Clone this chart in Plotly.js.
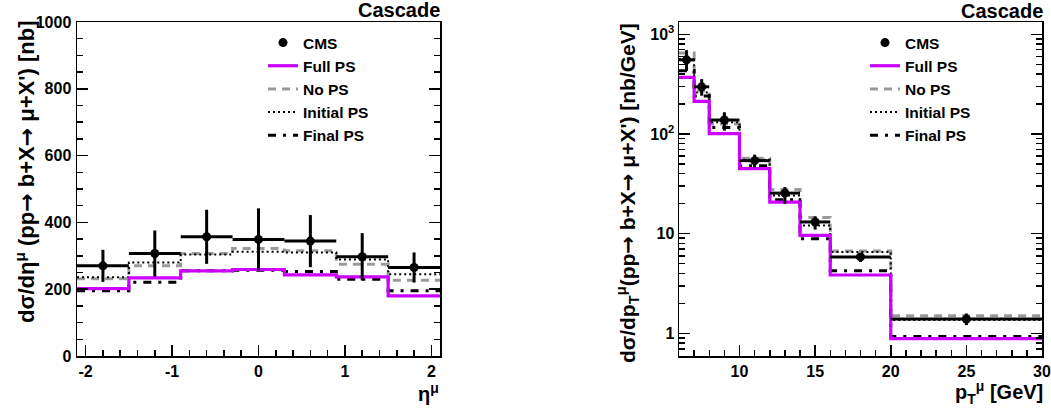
<!DOCTYPE html>
<html><head><meta charset="utf-8">
<script src="https://cdn.plot.ly/plotly-3.0.1.min.js"></script>
<style>html,body{margin:0;padding:0;background:#fff}#c{width:1051px;height:413px}</style>
</head><body><div id="c"></div>
<script>
// ---- left panel: eta ----
const etaEdges = [-2.1, -1.5, -0.9, -0.3, 0.3, 0.9, 1.5, 2.1];
const etaCMS = [270, 307, 357, 349, 344, 297, 265];
const etaCMSErr = [48, 69, 81, 93, 78, 71, 45];
const etaFull = [202, 234, 255, 259, 243, 237, 180];
const etaNoPS = [231, 270, 307, 322, 315, 275, 227];
const etaInitial = [236, 280, 304, 312, 310, 289, 245];
const etaFinal = [195, 221, 255, 257, 253, 230, 195];

// ---- right panel: pT ----
const ptEdges = [6, 7, 8, 10, 12, 14, 16, 20, 30];
const ptCMS = [554, 297, 138, 54, 25.5, 13.1, 5.85, 1.39];
const ptCMSErrUp = [138, 58, 27, 8, 3.8, 1.8, 0.55, 0.19];
const ptCMSErrDn = [124, 55, 30, 8, 5.5, 2.1, 0.65, 0.18];
const ptFull = [369, 212, 101, 45, 20.7, 9.6, 3.85, 0.885];
const ptNoPS = [650, 270, 126, 57, 27.7, 14.5, 6.7, 1.50];
const ptInitial = [560, 260, 131, 55, 24.2, 12.1, 6.55, 1.36];
const ptFinal = [430, 240, 116, 48, 21.9, 8.9, 4.25, 0.93];

const seriesNames = ['CMS', 'Full PS', 'No PS', 'Initial PS', 'Final PS'];
const logTickVals = [1, 10, 100, 1000];
const logTickText = ['1', '10', '10<sup>2</sup>', '10<sup>3</sup>'];

const FONT = 'Liberation Sans, Arial, Helvetica, sans-serif';
const MAG = '#cc00ff';
const ARROW = '<span style="font-family:DejaVu Sans">→</span>';

function centers(e){ const c=[]; for(let i=0;i<e.length-1;i++) c.push((e[i]+e[i+1])/2); return c; }
function halfw(e){ const c=[]; for(let i=0;i<e.length-1;i++) c.push((e[i+1]-e[i])/2); return c; }

const styles = [
  null,
  {color: MAG, width: 3.2},
  {color: '#9a9a9a', width: 3, dash: '8px,6px'},
  {color: '#000', width: 2, dash: '2px,3px'},
  {color: '#000', width: 3, dash: '8px,7px,3px,7px'}
];

function stepTrace(edges, vals, k, xa, ya, leg){
  return {
    x: edges, y: vals.concat([vals[vals.length-1]]),
    type: 'scatter', mode: 'lines', line: Object.assign({shape: 'hv'}, styles[k]),
    name: seriesNames[k], xaxis: xa, yaxis: ya, legend: leg, legendrank: k+1,
    hoverinfo: 'skip'
  };
}
function cmsTrace(edges, vals, up, dn, xa, ya, leg){
  return {
    x: centers(edges), y: vals, type: 'scatter', mode: 'markers',
    marker: {color: '#000', size: 9, symbol: 'circle'},
    error_x: {type: 'data', array: halfw(edges), color: '#000', thickness: 3, width: 0},
    error_y: {type: 'data', symmetric: false, array: up, arrayminus: dn, color: '#000', thickness: 3, width: 0},
    name: seriesNames[0], xaxis: xa, yaxis: ya, legend: leg, legendrank: 1
  };
}

const data = [
  stepTrace(etaEdges, etaNoPS, 2, 'x', 'y', 'legend'),
  stepTrace(etaEdges, etaInitial, 3, 'x', 'y', 'legend'),
  stepTrace(etaEdges, etaFinal, 4, 'x', 'y', 'legend'),
  stepTrace(etaEdges, etaFull, 1, 'x', 'y', 'legend'),
  cmsTrace(etaEdges, etaCMS, etaCMSErr, etaCMSErr, 'x', 'y', 'legend'),
  stepTrace(ptEdges, ptNoPS, 2, 'x2', 'y2', 'legend2'),
  stepTrace(ptEdges, ptInitial, 3, 'x2', 'y2', 'legend2'),
  stepTrace(ptEdges, ptFinal, 4, 'x2', 'y2', 'legend2'),
  stepTrace(ptEdges, ptFull, 1, 'x2', 'y2', 'legend2'),
  cmsTrace(ptEdges, ptCMS, ptCMSErrUp, ptCMSErrDn, 'x2', 'y2', 'legend2')
];

const W = 1051, H = 413;
const px = v => v / W, py = v => 1 - v / H;

const minorLog = [];
[0.1, 1, 10, 100, 1000].forEach(d => { for (let m = 2; m <= 9; m++) minorLog.push(m * d); });

const tickFont = {family: FONT, size: 16, weight: 'bold', color: '#000'};
const baseAxis = {
  showgrid: false, zeroline: false, showline: true, linecolor: '#000', linewidth: 1.5,
  ticks: 'inside', ticklen: 11, tickwidth: 1.5, tickcolor: '#000', tickfont: tickFont,
  fixedrange: true
};
const minorStyle = {ticks: 'inside', ticklen: 6, tickwidth: 1.5, tickcolor: '#000'};
const legFont = {family: FONT, size: 15.5, weight: 'bold', color: '#000'};

const layout = {
  width: W, height: H, margin: {l: 0, r: 0, t: 0, b: 0},
  paper_bgcolor: '#fff', plot_bgcolor: '#fff',
  font: {family: FONT, weight: 'bold', color: '#000'},
  xaxis: Object.assign({}, baseAxis, {
    domain: [px(77), px(440)], range: [-2.1, 2.1], anchor: 'y', mirror: true,
    tickvals: [-2, -1, 0, 1, 2], ticktext: ['-2', '-1', '0', '1', '2'],
    minor: Object.assign({dtick: 0.2}, minorStyle)
  }),
  yaxis: Object.assign({}, baseAxis, {
    domain: [py(356), py(22)], range: [0, 1000], anchor: 'x', mirror: 'allticks',
    dtick: 200, ticklabelstandoff: 1,
    minor: Object.assign({dtick: 50}, minorStyle)
  }),
  xaxis2: Object.assign({}, baseAxis, {
    domain: [px(679), px(1042)], range: [6, 30], anchor: 'y2', mirror: true,
    tickvals: [10, 15, 20, 25, 30],
    minor: Object.assign({dtick: 1}, minorStyle)
  }),
  yaxis2: Object.assign({}, baseAxis, {
    domain: [py(356), py(22)], type: 'log', range: [-0.227, 3.123], anchor: 'x2', mirror: 'allticks',
    tickvals: logTickVals, ticktext: logTickText,
    minor: Object.assign({tickvals: minorLog}, minorStyle)
  }),
  legend: {
    x: px(263), y: py(26), xanchor: 'left', yanchor: 'top', bgcolor: 'rgba(0,0,0,0)',
    font: legFont, itemwidth: 30, tracegroupgap: 0
  },
  legend2: {
    x: px(865), y: py(26), xanchor: 'left', yanchor: 'top', bgcolor: 'rgba(0,0,0,0)',
    font: legFont, itemwidth: 30, tracegroupgap: 0
  },
  annotations: [
    {text: 'Cascade', xref: 'paper', yref: 'paper', x: px(442), y: py(-3), xanchor: 'right', yanchor: 'top',
     showarrow: false, font: {family: FONT, size: 20, weight: 'bold'}},
    {text: 'Cascade', xref: 'paper', yref: 'paper', x: px(1045), y: py(-2), xanchor: 'right', yanchor: 'top',
     showarrow: false, font: {family: FONT, size: 20, weight: 'bold'}},
    {text: 'η<sup>μ</sup>', xref: 'paper', yref: 'paper', x: px(441), y: py(378), xanchor: 'right', yanchor: 'top',
     showarrow: false, font: {family: FONT, size: 20, weight: 'bold'}},
    {text: 'p<sub>T</sub><sup>μ</sup> [GeV]', xref: 'paper', yref: 'paper', x: px(1045), y: py(376), xanchor: 'right', yanchor: 'top',
     showarrow: false, font: {family: FONT, size: 20, weight: 'bold'}},
    {text: "dσ/dη<sup>μ</sup> (pp" + ARROW + " b+X" + ARROW + " μ+X') [nb]", xref: 'paper', yref: 'paper', x: px(25), y: py(172),
     xanchor: 'center', yanchor: 'middle', textangle: -90, showarrow: false,
     font: {family: FONT, size: 22, weight: 'bold'}},
    {text: "dσ/dp<sub>T</sub><sup>μ</sup>(pp" + ARROW + " b+X" + ARROW + " μ+X') [nb/GeV]", xref: 'paper', yref: 'paper', x: px(627), y: py(193),
     xanchor: 'center', yanchor: 'middle', textangle: -90, showarrow: false,
     font: {family: FONT, size: 21, weight: 'bold'}}
  ]
};

Plotly.newPlot('c', data, layout, {staticPlot: true, displayModeBar: false});
</script></body></html>
